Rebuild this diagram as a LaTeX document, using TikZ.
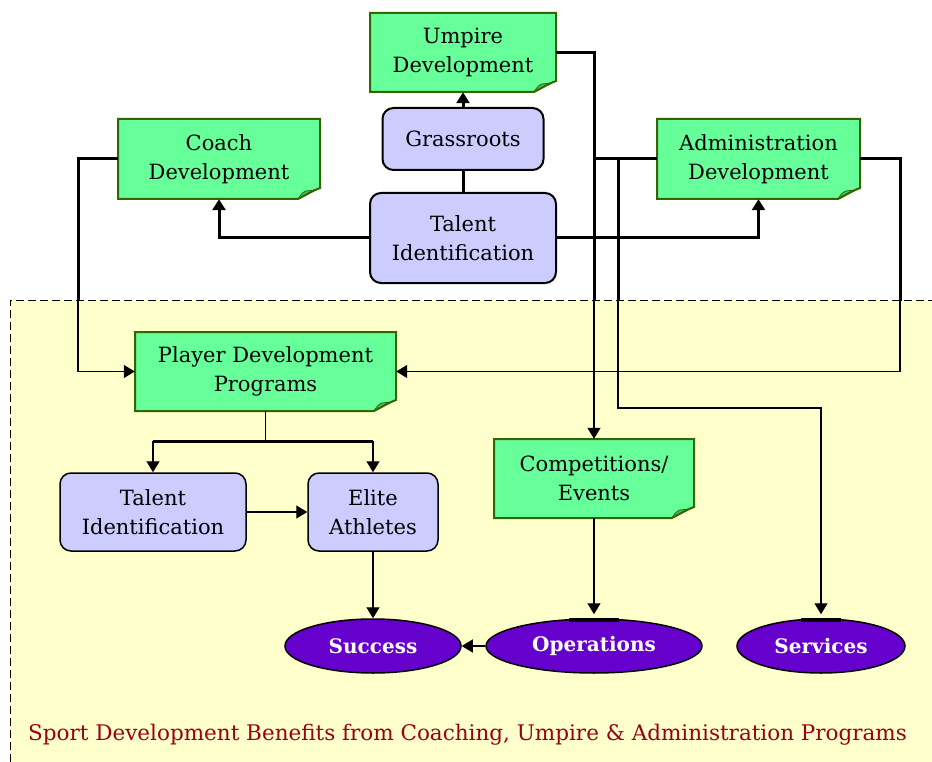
\documentclass[tikz,border=0pt]{standalone}
\usepackage{fontspec}
\setmainfont{DejaVu Serif}
\usetikzlibrary{shapes.geometric,arrows.meta,calc}

\definecolor{notegreen}{HTML}{66FF99}
\definecolor{noteedge}{HTML}{336600}
\definecolor{foldgreen}{HTML}{44BB66}
\definecolor{lavender}{HTML}{CCCCFF}
\definecolor{goalpurple}{HTML}{6600CC}
\definecolor{paleyellow}{HTML}{FFFFCC}
\definecolor{captionred}{HTML}{990011}

% green sticky note with a curled lower-right corner:
% #1 name, #2 left, #3 top, #4 right, #5 bottom, #6 text
\newcommand\notebox[6]{%
  \pgfmathsetmacro\nbw{#4-#2}%
  \pgfmathsetmacro\nbh{#5-#3}%
  \fill[notegreen] (#2,#3) -- (#4,#3) -- (#4,#5-11)
    .. controls (#4-8,#5-8) and (#4-16,#5-3) .. (#4-22,#5) -- (#2,#5) -- cycle;
  \filldraw[foldgreen, draw=noteedge, line width=0.8pt]
    (#4-22,#5) .. controls (#4-18,#5-6) .. (#4-14,#5-8) -- (#4-5,#5-9) .. controls (#4-12,#5-5) .. cycle;
  \draw[noteedge, line width=2pt, line join=miter] (#2,#3) -- (#4,#3) -- (#4,#5-11)
    .. controls (#4-8,#5-8) and (#4-16,#5-3) .. (#4-22,#5) -- (#2,#5) -- cycle;
  \node[notetext, minimum width=\nbw pt, minimum height=\nbh pt] (#1) at ({(#2+#4)/2},{(#3+#5)/2}) {#6};
}

\begin{document}
\begin{tikzpicture}[x=1pt, y=-1pt,
  every node/.style={inner sep=0pt},
  notetext/.style={align=center, font=\fontsize{21}{29}\selectfont},
  softbox/.style={draw=black, fill=lavender, rounded corners=11pt, line width=2pt,
    align=center, font=\fontsize{21}{29}\selectfont},
  goal/.style={ellipse, draw=black, fill=goalpurple, line width=1.5pt, text=white,
    font=\fontsize{20}{24}\bfseries\selectfont, minimum height=54pt},
  mainwire/.style={line width=3pt},
  wire/.style={line width=1.3pt},
  tip/.style={-{Triangle[width=13pt,length=11pt]}},
]
\useasboundingbox (0,0) rectangle (932,762);

% programme area
\fill[paleyellow] (10,300) rectangle (932,762);
\draw[line width=1pt, dash pattern=on 8pt off 4pt] (10,762) -- (10,300) -- (932,300);

% sticky notes
\notebox{umpire}{370}{13}{556}{92}{Umpire\\Development}
\notebox{coach}{118}{119}{320}{199}{Coach\\Development}
\notebox{admin}{657}{119}{860}{199}{Administration\\Development}
\notebox{player}{135}{332}{396}{411}{Player Development\\Programs}
\notebox{comp}{494}{439}{694}{518}{Competitions/\\Events}

% rounded stages
\node[softbox, minimum width=161pt, minimum height=62pt] (grass) at (463,139) {Grassroots};
\node[softbox, minimum width=186pt, minimum height=90pt] (talent) at (463,238) {Talent\\Identification};
\node[softbox, line width=1.5pt, minimum width=186pt, minimum height=78pt] (talent2) at (153,512) {Talent\\Identification};
\node[softbox, line width=1.5pt, minimum width=130pt, minimum height=78pt] (elite) at (373,512) {Elite\\Athletes};

% outcomes
\node[goal, minimum width=176pt] (success) at (373,646) {Success};
\node[goal, minimum width=216pt] (ops) at (594,646) {Operations};
\node[goal, minimum width=168pt] (services) at (821,646) {Services};
\draw[line width=4pt] ([xshift=-25pt,yshift=-2pt]ops.north) -- ([xshift=25pt,yshift=-2pt]ops.north);
\draw[line width=4pt] ([xshift=-20pt,yshift=-2pt]services.north) -- ([xshift=20pt,yshift=-2pt]services.north);

% routing helpers
\coordinate (leftX) at (78,0);
\coordinate (rightX) at (900,0);
\coordinate (svcX) at (618,0);
\coordinate (svcY) at (0,408);
\coordinate (splitY) at (0,441);

% upper connectors
\draw[mainwire, tip] (grass.north) -- (grass.north |- umpire.south);
\draw[mainwire] (grass.south) -- (talent.north);
\draw[mainwire, tip] (talent.west) -| (coach.south);
\draw[mainwire, tip] (talent.east) -| (admin.south);
\draw[mainwire] (admin.west) -- (admin.west -| comp.north);

% long feeders: thin inside the programme area ...
\draw[wire, tip] (umpire.east) -| (comp.north);
\draw[wire, tip] (coach.west) -| (leftX |- player.west) -- (player.west);
\draw[wire, tip] (admin.east) -| (rightX |- player.east) -- (player.east);
\draw[wire, tip, shorten >=4pt] (admin.west -| svcX) -- (svcX |- svcY) -| (services.north);
% ... and heavy above it
\begin{scope}
  \clip (0,0) rectangle (932,300);
  \draw[mainwire] (umpire.east) -| (comp.north);
  \draw[mainwire] (coach.west) -| (leftX |- player.west);
  \draw[mainwire] (admin.east) -| (rightX |- player.east);
  \draw[mainwire] (admin.west -| svcX) -- (svcX |- svcY);
\end{scope}

% programme flow
\draw[wire] (player.south) -- (player.south |- splitY);
\draw[mainwire] (talent2.north |- splitY) -- (elite.north |- splitY);
\draw[wire, tip] (talent2.north |- splitY) -- (talent2.north);
\draw[wire, tip] (elite.north |- splitY) -- (elite.north);
\draw[wire, tip] (talent2.east) -- (elite.west);
\draw[wire, tip] (elite.south) -- (success.north);
\draw[wire, tip, shorten >=4pt] (comp.south) -- (ops.north);
\draw[wire, tip] (ops.west) -- (success.east);

% caption
\node[anchor=west, text=captionred, font=\fontsize{21.5}{26}\selectfont] (caption) at (28,735)
  {Sport Development Benefits from Coaching, Umpire \& Administration Programs};
\end{tikzpicture}
\end{document}
